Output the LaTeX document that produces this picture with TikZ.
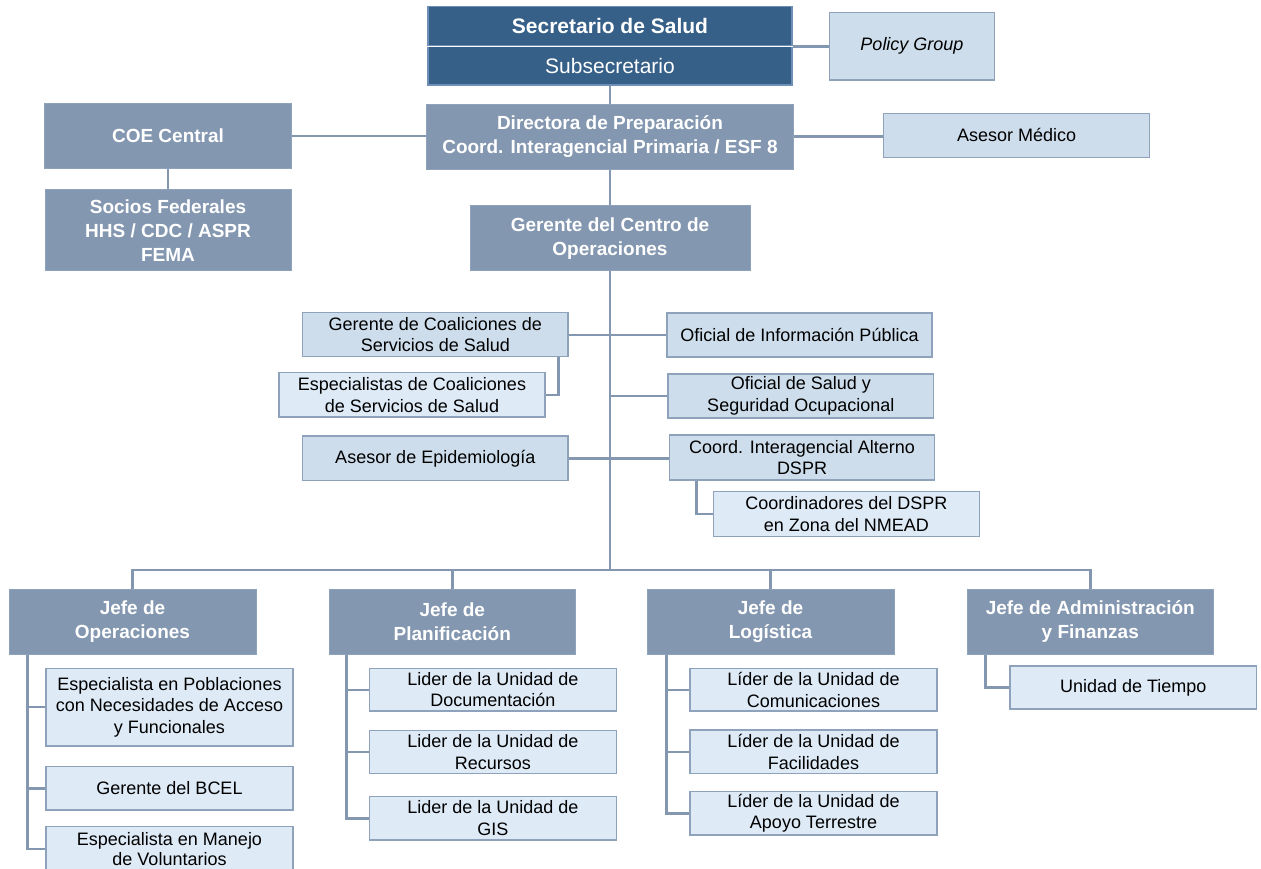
\documentclass[tikz,border=0pt]{standalone}
\usepackage{fontspec}
\setmainfont{Liberation Sans}

\definecolor{secblue}{HTML}{366088}
\definecolor{secedge}{HTML}{6F8FB6}
\definecolor{chiefgray}{HTML}{8497B0}
\definecolor{chiefedge}{HTML}{8FA2BB}
\definecolor{staffblue}{HTML}{CDDDEB}
\definecolor{unitblue}{HTML}{DEEAF6}
\definecolor{boxedge}{HTML}{8EA2BC}
\definecolor{linkgray}{HTML}{8497B0}

\begin{document}
\begin{tikzpicture}[
						x=1pt, y=-1pt,
						% Box looks (optional, but helpful)
						head style/.style={draw=secedge, fill=secblue, text=white, line width=1.2pt, inner sep=0pt, align=center, font=\fontsize{21}{25}\selectfont},
						chief style/.style={draw=chiefedge, fill=chiefgray, text=white, line width=1pt, inner sep=0pt, align=center, font=\bfseries\fontsize{19}{24}\selectfont},
						staff style/.style={draw=boxedge, fill=staffblue, line width=1.2pt, inner sep=0pt, align=center, font=\fontsize{18}{21.7}\selectfont},
						unit style/.style={staff style, fill=unitblue},
						boxsize/.style 2 args={minimum width=#1pt, minimum height=#2pt},
						link/.style={draw=linkgray, line width=2.4pt}
						]
						
						\useasboundingbox (0,0) rectangle (1261,869);
						
						% Top of the chart
						\node[head style, boxsize={364}{39.3}, font=\bfseries\fontsize{21}{25}\selectfont] (sec) at (610,26.3) {Secretario de Salud};
						\node[head style, boxsize={364}{39}] (subsec) at (610,65.5) {Subsecretario};
						\node[staff style, boxsize={165}{67.3}, font=\itshape\fontsize{18}{21.7}\selectfont] (policy) at (912,46.3) {Policy Group};
						\node[chief style, boxsize={367}{65.3}] (dir) at (610,136.7) {Directora de Preparación\\Coord. Interagencial Primaria / ESF 8};
						\node[chief style, boxsize={246.5}{65}] (coe) at (168,135.8) {COE Central};
						\node[staff style, boxsize={266}{44}] (medico) at (1016.6,135.3) {Asesor Médico};
						\node[chief style, boxsize={246}{80.7}] (socios) at (168,230.3) {Socios Federales\\HHS / CDC / ASPR\\FEMA};
						\node[chief style, boxsize={280}{65}] (ger) at (610,238.2) {Gerente del Centro de\\Operaciones};
						
						% Staff of the operations centre
						\node[staff style, boxsize={265.5}{44}] (coal) at (435.3,334.7) {Gerente de Coaliciones de\\Servicios de Salud};
						\node[unit style, boxsize={266}{44.3}] (espcoal) at (412,394.8) {Especialistas de Coaliciones\\de Servicios de Salud};
						\node[staff style, boxsize={265.5}{44.7}] (epid) at (435.3,458.3) {Asesor de Epidemiología};
						\node[staff style, boxsize={265}{44}] (info) at (799.5,335) {Oficial de Información Pública};
						\node[staff style, boxsize={265.6}{44}] (salud) at (800.8,396) {Oficial de Salud y\\Seguridad Ocupacional};
						\node[staff style, boxsize={265.7}{45}] (alterno) at (802,457.5) {Coord. Interagencial Alterno\\DSPR};
						\node[unit style, boxsize={266}{45}] (dspr) at (846.3,514.2) {Coordinadores del DSPR\\en Zona del NMEAD};
						
						% Section chiefs
						\coordinate (bus) at (610,570);
						\node[chief style, boxsize={247}{65}] (jops) at (132.5,621.8) {Jefe de\\Operaciones};
						\node[chief style, boxsize={246.5}{65}] (jplan) at (452.3,621.8) {Jefe de\\Planificación};
						\node[chief style, boxsize={247}{65}] (jlog) at (770.5,621.8) {Jefe de\\Logística};
						\node[chief style, boxsize={246.5}{65}] (jadm) at (1090.3,621.8) {Jefe de Administración\\y Finanzas};
						
						% Units
						\node[unit style, boxsize={247}{77.7}] (pob) at (169.5,707.2) {Especialista en Poblaciones\\con Necesidades de Acceso\\y Funcionales};
						\node[unit style, boxsize={247}{43.3}] (bcel) at (169.5,788.3) {Gerente del BCEL};
						\node[unit style, boxsize={247}{44.4}, font=\fontsize{18}{20.5}\selectfont] (manejo) at (169.5,849) {Especialista en Manejo\\de Voluntarios};
						\node[unit style, boxsize={247}{42.7}] (doc) at (492.9,689.7) {Lider de la Unidad de\\Documentación};
						\node[unit style, boxsize={247}{42.6}] (recursos) at (492.9,752) {Lider de la Unidad de\\Recursos};
						\node[unit style, boxsize={247}{43.3}] (gis) at (492.9,818.3) {Lider de la Unidad de\\GIS};
						\node[unit style, boxsize={247}{42.7}] (comun) at (813.5,689.7) {Líder de la Unidad de\\Comunicaciones};
						\node[unit style, boxsize={247}{43.3}] (facil) at (813.5,751.7) {Líder de la Unidad de\\Facilidades};
						\node[unit style, boxsize={247}{43.3}] (apoyo) at (813.5,813.3) {Líder de la Unidad de\\Apoyo Terrestre};
						\node[unit style, boxsize={246.6}{43}] (tiempo) at (1133.3,687.5) {Unidad de Tiempo};
						
						% --- Draw the links ---
						\draw[white, line width=1.5pt] (sec.south west) -- (sec.south east);
						\draw[link] (sec.south east) -- (sec.south east -| policy.west);
						\draw[link] (subsec.south) -- (dir.north);
						\draw[link] (coe.east) -- (coe.east -| dir.west);
						\draw[link] (dir.east) -- (dir.east -| medico.west);
						\draw[link] (coe.south) -- (socios.north);
						\draw[link] (dir.south) -- (ger.north);
						\draw[link] (ger.south) -- (bus);
						
						\draw[link] (coal.east) -- (coal.east -| info.west);
						\draw[link] ([xshift=-10pt]coal.south east) |- (espcoal.east);
						\draw[link] (salud.west) -- (salud.west -| bus);
						\draw[link] (epid.east) -- (epid.east -| alterno.west);
						\draw[link] ([xshift=28pt]alterno.south west) |- (dspr.west);
						
						\draw[link] (jops.north) |- (bus) -| (jadm.north);
						\draw[link] (jplan.north) -- (jplan.north |- bus);
						\draw[link] (jlog.north) -- (jlog.north |- bus);
						
						\draw[link] ([xshift=19pt]jops.south west) |- (pob.west);
						\draw[link] ([xshift=19pt]jops.south west) |- (bcel.west);
						\draw[link] ([xshift=19pt]jops.south west) |- (manejo.west);
						\draw[link] ([xshift=18pt]jplan.south west) |- (doc.west);
						\draw[link] ([xshift=18pt]jplan.south west) |- (recursos.west);
						\draw[link] ([xshift=18pt]jplan.south west) |- (gis.west);
						\draw[link] ([xshift=20pt]jlog.south west) |- (comun.west);
						\draw[link] ([xshift=20pt]jlog.south west) |- (facil.west);
						\draw[link] ([xshift=20pt]jlog.south west) |- (apoyo.west);
						\draw[link] ([xshift=19pt]jadm.south west) |- (tiempo.west);
					\end{tikzpicture}
\end{document}
